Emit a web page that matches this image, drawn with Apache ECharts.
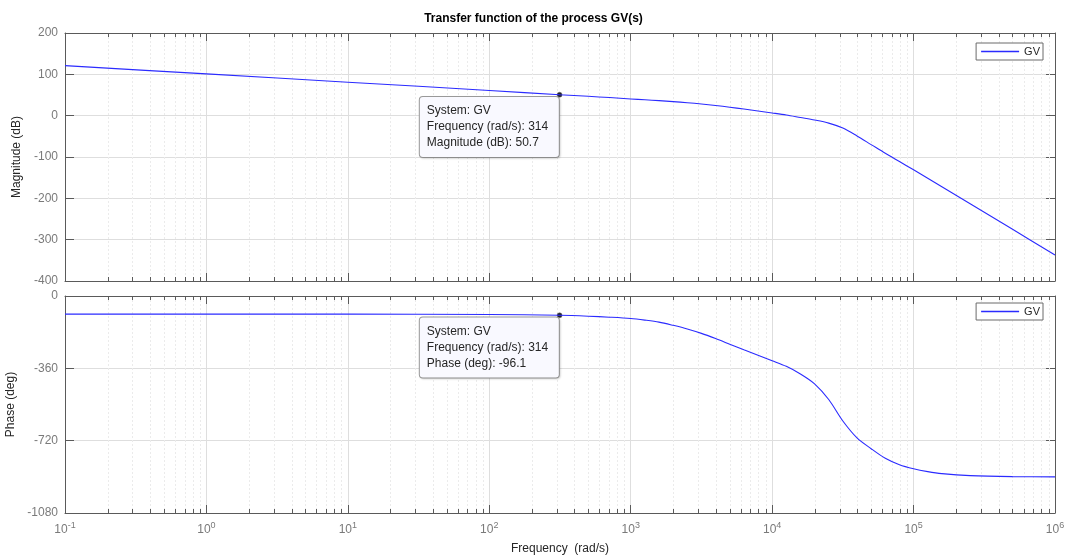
<!DOCTYPE html>
<html>
<head>
<meta charset="utf-8">
<script src="https://cdn.jsdelivr.net/npm/echarts@6/dist/echarts.min.js"></script>
<style>html,body{margin:0;padding:0;background:#fff;}#c{width:1067px;height:560px;}</style>
</head>
<body>
<div id="c"></div>
<script>
// ---- data ----
const freq     = [0.1, 1, 10, 100, 314, 501, 708, 1000, 1259, 1585, 1995, 2512, 3162, 3981, 5012, 6310, 7943, 10000, 12589, 15849, 19953, 25119, 31623, 39811, 50119, 63096, 79433, 100000, 125893, 158489, 251189, 501187, 1000000];
const magDB    = [121, 101, 81, 61, 50.7, 46.8, 43.8, 40.5, 38.5, 36.4, 34, 31.4, 28.3, 24.6, 20.5, 16, 11.3, 6.5, 1.5, -4.5, -10.5, -18, -30, -49, -70, -91, -111, -131, -151.5, -172, -213, -275, -337];
const phaseDeg = [-90, -90, -90.2, -92, -96.1, -100.5, -105.5, -112, -120, -130, -146, -164, -186, -212, -240, -268, -295, -322, -350, -388, -437, -515, -622, -706, -760, -808, -840, -860, -874, -884, -894, -899, -900];
const magTicks   = [-400, -300, -200, -100, 0, 100, 200];
const phaseTicks = [-1080, -720, -360, 0];
const decades    = [-1, 0, 1, 2, 3, 4, 5, 6];
const tipFreq = 314, tipMag = 50.7, tipPhase = -96.1;
const seriesName = 'GV';

const minorVals = [];
decades.slice(0, -1).forEach(e => { for (let m = 2; m <= 9; m++) minorVals.push(m * Math.pow(10, e)); });

const AX = '#5a5a5a', GRID = '#dedede', LBL = '#7a7a7a', FONT = 'Liberation Sans, Arial, Helvetica, sans-serif';
const xMin = Math.pow(10, decades[0]), xMax = Math.pow(10, decades[decades.length - 1]);

function xAxisDef(grid, pos, showLabel) {
  return {
    type: 'log', logBase: 10, gridIndex: grid, position: pos, min: xMin, max: xMax, interval: 1,
    axisLine: { show: true, onZero: false, lineStyle: { color: AX, width: 1 } },
    axisTick: { show: true, inside: true, length: 8, lineStyle: { color: AX } },
    splitLine: { show: pos === 'bottom', lineStyle: { color: GRID, width: 1 } },
    minorTick: { show: false }, minorSplitLine: { show: false },
    axisLabel: showLabel ? {
      show: true, margin: 8, color: LBL, fontFamily: FONT,
      formatter: v => '{b|10}{s|' + Math.round(Math.log10(v)) + '}',
      rich: { b: { fontSize: 12, color: LBL, fontFamily: FONT }, s: { fontSize: 9, color: LBL, fontFamily: FONT, padding: [0, 0, 8, 0] } }
    } : { show: false },
    name: showLabel ? 'Frequency  (rad/s)' : '', nameLocation: 'middle', nameGap: 30,
    nameTextStyle: { fontSize: 12, color: '#262626', fontFamily: FONT }
  };
}
function yAxisDef(grid, pos, ticks, name, gap) {
  return {
    type: 'value', gridIndex: grid, position: pos,
    min: ticks[0], max: ticks[ticks.length - 1], interval: ticks[1] - ticks[0],
    axisLine: { show: true, onZero: false, lineStyle: { color: AX, width: 1 } },
    axisTick: { show: true, inside: true, length: 9, lineStyle: { color: AX } },
    splitLine: { show: pos === 'left', lineStyle: { color: GRID, width: 1 } },
    axisLabel: pos === 'left' ? { show: true, color: LBL, fontSize: 12, fontFamily: FONT, margin: 7, formatter: v => String(v) } : { show: false },
    name: pos === 'left' ? name : '', nameLocation: 'middle', nameGap: gap,
    nameTextStyle: { fontSize: 12, color: '#262626', fontFamily: FONT }
  };
}
function minorRender(params, api) {
  const cs = params.coordSys;
  const x = Math.round(api.coord([api.value(0), api.value(1)])[0]) + 0.5;
  return { type: 'group', children: [
    { type: 'line', shape: { x1: x, y1: cs.y, x2: x, y2: cs.y + cs.height }, style: { stroke: '#ebebeb', lineWidth: 1, lineDash: [2, 2] } },
    { type: 'line', shape: { x1: x, y1: cs.y + cs.height, x2: x, y2: cs.y + cs.height - 4 }, style: { stroke: AX, lineWidth: 1 } },
    { type: 'line', shape: { x1: x, y1: cs.y, x2: x, y2: cs.y + 4 }, style: { stroke: AX, lineWidth: 1 } }
  ] };
}
function tipLabel(lines) {
  return {
    show: true, formatter: lines.join('\n'), position: [-137, 5], align: 'left', verticalAlign: 'top',
    width: 124, overflow: 'none',
    fontSize: 12, lineHeight: 16, color: '#262626', fontFamily: FONT,
    backgroundColor: '#f9f9ff', borderColor: '#9a9a9a', borderWidth: 1, borderRadius: 3,
    padding: [6, 8, 6, 7], shadowColor: 'rgba(0,0,0,0.12)', shadowBlur: 2, shadowOffsetX: 1, shadowOffsetY: 1
  };
}
function legendDef(top) {
  return {
    data: [seriesName], right: 24, top: top, orient: 'vertical', icon: 'rect',
    backgroundColor: '#fff', borderColor: '#6a6a6a', borderWidth: 1, borderRadius: 0,
    padding: [3, 3, 3, 5], itemWidth: 38, itemHeight: 1.5, itemGap: 0,
    textStyle: { fontSize: 11, color: '#262626', fontFamily: FONT }
  };
}

const lineColor = '#2b2bff';
const chart = echarts.init(document.getElementById('c'), null, { renderer: 'canvas' });
chart.setOption({
  animation: false,
  backgroundColor: '#fff',
  title: { text: 'Transfer function of the process GV(s)', left: 'center', top: 8,
    textStyle: { fontSize: 12, fontWeight: 'bold', color: '#000', fontFamily: FONT } },
  grid: [
    { left: 65, right: 12, top: 33, height: 248, containLabel: false, outerBoundsMode: 'none' },
    { left: 65, right: 12, top: 296, height: 217, containLabel: false, outerBoundsMode: 'none' }
  ],
  legend: [legendDef(43), legendDef(303)],
  xAxis: [xAxisDef(0, 'bottom', false), xAxisDef(0, 'top', false), xAxisDef(1, 'bottom', true), xAxisDef(1, 'top', false)],
  yAxis: [yAxisDef(0, 'left', magTicks, 'Magnitude (dB)', 27), yAxisDef(0, 'right', magTicks, '', 0),
          yAxisDef(1, 'left', phaseTicks, 'Phase (deg)', 38), yAxisDef(1, 'right', phaseTicks, '', 0)],
  series: [
    { type: 'custom', xAxisIndex: 0, yAxisIndex: 0, renderItem: minorRender, data: minorVals.map(v => [v, 0]), silent: true, z: 1, clip: false },
    { type: 'custom', xAxisIndex: 2, yAxisIndex: 2, renderItem: minorRender, data: minorVals.map(v => [v, -540]), silent: true, z: 1, clip: false },
    { name: seriesName, type: 'line', xAxisIndex: 0, yAxisIndex: 0, data: freq.map((f, i) => [f, magDB[i]]),
      showSymbol: false, smooth: 0.3, lineStyle: { color: lineColor, width: 1.1 }, itemStyle: { color: lineColor }, z: 5,
      markPoint: { symbol: 'circle', symbolSize: 5, itemStyle: { color: '#222', borderColor: '#666', borderWidth: 0.5 },
        label: tipLabel(['System: ' + seriesName, 'Frequency (rad/s): ' + tipFreq, 'Magnitude (dB): ' + tipMag]),
        data: [{ coord: [tipFreq, tipMag] }] } },
    { name: seriesName, type: 'line', xAxisIndex: 2, yAxisIndex: 2, data: freq.map((f, i) => [f, phaseDeg[i]]),
      showSymbol: false, smooth: 0.3, lineStyle: { color: lineColor, width: 1.1 }, itemStyle: { color: lineColor }, z: 5,
      markPoint: { symbol: 'circle', symbolSize: 5, itemStyle: { color: '#222', borderColor: '#666', borderWidth: 0.5 },
        label: tipLabel(['System: ' + seriesName, 'Frequency (rad/s): ' + tipFreq, 'Phase (deg): ' + tipPhase]),
        data: [{ coord: [tipFreq, tipPhase] }] } }
  ]
});
</script>
</body>
</html>
